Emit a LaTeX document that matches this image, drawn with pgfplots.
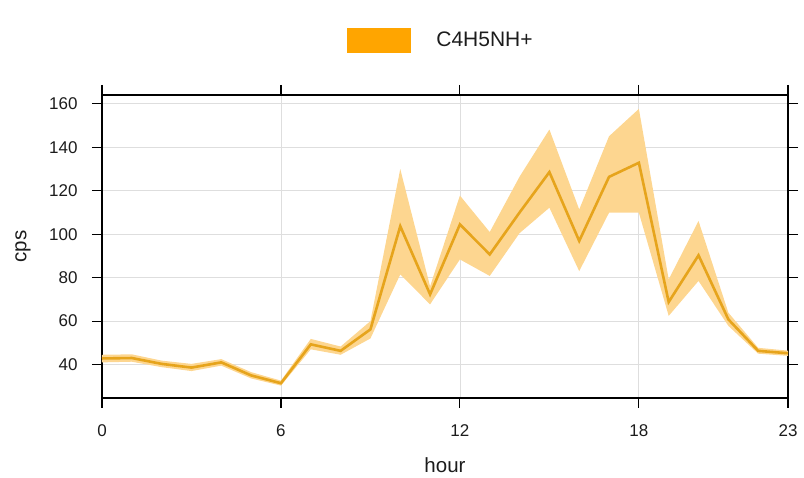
\documentclass[border=0pt]{standalone}
\usepackage{pgfplots}
\pgfplotsset{compat=1.18}
\usepackage{pgfplotstable}
\usepgfplotslibrary{fillbetween}
\usepackage{fontspec}
\setmainfont{Liberation Sans}

\definecolor{legendorange}{HTML}{FFA500}
\definecolor{bandorange}{HTML}{FDD690}
\definecolor{lineorange}{HTML}{E6A41C}
\definecolor{gridgrey}{HTML}{DEDEDE}
\definecolor{textgrey}{HTML}{1C1C1C}

% hourly mean with lower / upper confidence limits
\pgfplotstableread{
h  mean   lo     hi
0  42.8   41.0   44.5
1  43.0   41.3   44.7
2  40.3   38.8   41.8
3  38.6   37.0   40.3
4  41.0   39.5   42.5
5  35.0   33.6   36.5
6  31.4   30.3   32.6
7  49.3   47.0   51.8
8  46.3   44.5   48.3
9  56.2   52.0   60.0
10 103.7  81.5   130.0
11 72.3   67.7   76.0
12 104.5  88.4   117.8
13 90.7   80.8   101.0
14 110.0  100.5  126.5
15 128.6  112.2  148.2
16 96.9   83.0   111.4
17 126.4  109.9  145.1
18 132.9  109.9  157.7
19 68.8   62.4   79.2
20 90.3   78.5   106.1
21 60.8   57.8   63.9
22 46.3   45.0   47.7
23 45.2   44.0   46.4
}\hourdata

\begin{document}
\begin{tikzpicture}
\begin{axis}[
  scale only axis,
  width=686pt, height=303pt,
  xmin=0, xmax=23, ymin=24.6, ymax=164.1,
  xtick={0,6,12,18,23},
  ytick={40,60,...,160},
  tick pos=both,
  xticklabel pos=bottom,
  yticklabel pos=left,
  tick align=outside,
  major tick length=10pt,
  axis line style={line width=1.1pt, black},
  every tick/.style={line width=1.1pt, black},
  grid=major,
  major grid style={line width=0.8pt, gridgrey},
  /pgf/number format/assume math mode=true,
  ticklabel style={font=\fontsize{17}{20}\selectfont, text=textgrey},
  xticklabel style={yshift=-13pt},
  yticklabel style={xshift=-11pt},
  xlabel={hour},
  ylabel={cps},
  label style={font=\fontsize{20.5}{24}\selectfont, text=textgrey},
  xlabel style={at={(axis description cs:0.5,-0.2211)}, anchor=center},
  ylabel style={at={(axis description cs:-0.1152,0.5)}, anchor=center},
  legend style={at={(axis description cs:0.3571,1.1815)}, anchor=west,
    draw=none, fill=none, inner sep=0pt, outer sep=0pt,
    nodes={inner sep=0pt, font=\fontsize{21}{24}\selectfont, text=textgrey}},
]
\addplot[name path=upper, draw=none, forget plot] table[x=h, y=hi] {\hourdata};
\addplot[name path=lower, draw=none, forget plot] table[x=h, y=lo] {\hourdata};
\addplot[bandorange, forget plot] fill between[of=upper and lower];
\addplot[lineorange, line width=2.6pt, forget plot] table[x=h, y=mean] {\hourdata};
\addlegendimage{legend image code/.code={
    \fill[legendorange] (0pt,-12pt) rectangle (63pt,12pt);
    \path (89pt,0pt);
  }}
\addlegendentry{C4H5NH+}
\end{axis}
% page extent
\path (-102pt,-80pt) rectangle (702pt,398pt);
\end{tikzpicture}
\end{document}
